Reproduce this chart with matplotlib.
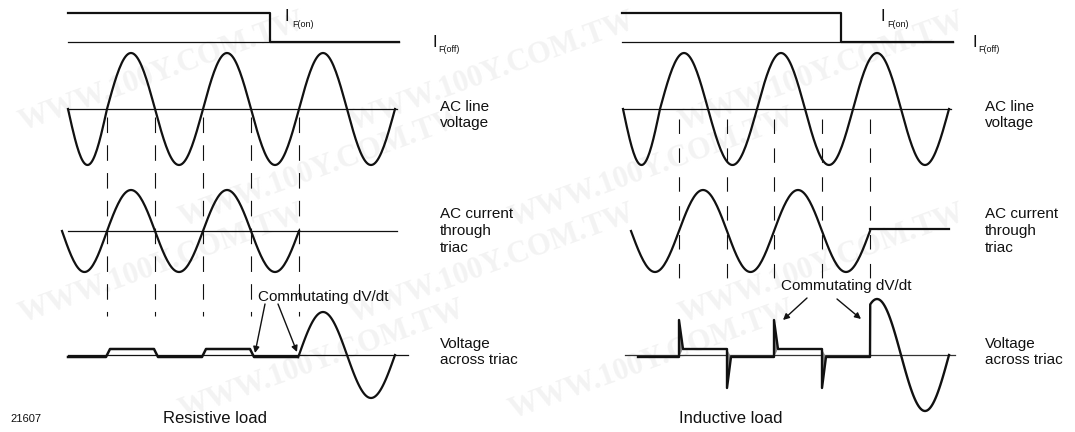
import numpy as np
import matplotlib.pyplot as plt

# Triac waveforms: resistive load (left) vs inductive load (right)
# everything is in picture pixels, y grows downward

# zero lines of the three waveform rows and the gate levels
gate_hi_y, gate_lo_y = 13, 42
line_y0, cur_y0, vt_y0 = 109, 231, 355

# half-cycle signs (+1 = above zero line)
line_signs = [-1, 1, -1, 1, -1, 1, -1]
cur_signs = [-1, 1, -1, 1, -1]

# resistive load
res_line_zeros = [68, 107, 155, 203, 251, 299, 347, 395]
res_cur_zeros = [62, 107, 155, 203, 251, 299]
res_gate = [68, 270, 399]          # start, switch-off, end
res_vt_start = 68

# inductive load
ind_line_zeros = [623, 660, 708, 757, 805, 853, 901, 949]
ind_cur_zeros = [631, 679, 727, 774, 822, 870]
ind_gate = [622, 841, 953]
ind_vt_start = 638
ind_cur_end = 949

# amplitudes (px)
line_amp = 56
cur_amp = 41
res_vt_amp = 43
ind_vt_amp = 56
on_hi, on_lo = 6, -2               # on-state voltage levels
spike_up, spike_dn = 35, -33       # commutation spikes

BLK = '#111111'
FONT = 'Liberation Sans'


def half_sines(zeros, signs, amp, y0, n=40):
    xs, ys = [], []
    for a, b, s in zip(zeros[:-1], zeros[1:], signs):
        t = np.linspace(0, 1, n)
        xs.append(a + (b - a) * t)
        ys.append(y0 - s * amp * np.sin(np.pi * t))
    return np.concatenate(xs), np.concatenate(ys)


fig = plt.figure(figsize=(10.75, 4.32), dpi=100)
ax = fig.add_axes([0, 0, 1, 1])
ax.set_xlim(0, 1075)
ax.set_ylim(432, 0)
ax.axis('off')

# faint watermark, kept inside the picture
for j, wy in enumerate([72, 168, 264, 360]):
    wx = 15 + (j % 2) * 160
    while wx + 260 < 1070:
        ax.text(wx, wy, 'WWW.100Y.COM.TW', fontsize=22, family='Liberation Serif',
                weight='bold', color='#f3f3f3', rotation=20, ha='left', va='center',
                zorder=0)
        wx += 330


def panel(line_zeros, cur_zeros, gate, inductive):
    x0 = line_zeros[0]
    # gate signal
    ax.plot([gate[0], gate[2]], [gate_lo_y, gate_lo_y], color=BLK, lw=0.9)
    ax.plot([gate[0], gate[1], gate[1], gate[2]],
            [gate_hi_y, gate_hi_y, gate_lo_y, gate_lo_y], color=BLK, lw=1.6)

    # AC line voltage
    ax.plot([x0, line_zeros[-1] + 2], [line_y0, line_y0], color=BLK, lw=0.9)
    lx, ly = half_sines(line_zeros, line_signs, line_amp, line_y0)
    ax.plot(lx, ly, color=BLK, lw=1.6)

    # current
    cx, cy = half_sines(cur_zeros, cur_signs, cur_amp, cur_y0)
    ax.plot(cx, cy, color=BLK, lw=1.6)
    if inductive:
        ax.plot([cur_zeros[-1], ind_cur_end], [cur_y0 - 2, cur_y0 - 2], color=BLK, lw=1.6)
    else:
        ax.plot([x0, line_zeros[-1] + 2], [cur_y0, cur_y0], color=BLK, lw=0.9)

    # dashed guides at current zeros
    y_end = 278 if inductive else 316
    y_start = 119 if inductive else 117
    dash = (13, 13) if inductive else (14, 11)
    for c in cur_zeros[1:]:
        ax.plot([c, c], [y_start, y_end], color=BLK, lw=0.8,
                dashes=dash, solid_capstyle='butt', dash_capstyle='butt')

    # voltage across triac
    vt_sw = cur_zeros[-1]
    if not inductive:
        ax.plot([x0, line_zeros[-1] + 13], [vt_y0, vt_y0], color=BLK, lw=0.9)
        px, py = [res_vt_start], [vt_y0 - on_lo]
        level = on_lo
        for c, s in zip(cur_zeros[1:-1], cur_signs[1:]):
            px += [c - 1]
            py += [vt_y0 - level]
            level = on_hi if s > 0 else on_lo
            px += [c + 3]
            py += [vt_y0 - level]
        px += [vt_sw - 1]
        py += [vt_y0 - level]
        sx, sy = half_sines(line_zeros, line_signs, res_vt_amp, vt_y0)
        keep = sx >= vt_sw
        ax.plot(px, py, color=BLK, lw=1.8)
        ax.plot(np.r_[vt_sw - 1, sx[keep]], np.r_[vt_y0 - level, sy[keep]],
                color=BLK, lw=1.6)
    else:
        ax.plot([line_zeros[0] + 2, line_zeros[-1] + 6], [vt_y0, vt_y0], color='#333333', lw=0.9)
        px, py = [ind_vt_start], [vt_y0 - on_lo]
        for c, s in zip(cur_zeros[1:-1], cur_signs[1:]):
            before = on_lo if s > 0 else on_hi
            after = on_hi if s > 0 else on_lo
            spike = spike_up if s > 0 else spike_dn
            ax.fill([c, c, c + 4], [vt_y0 - before, vt_y0 - spike, vt_y0 - after],
                    color='#8a8a8a', lw=0, zorder=2)
            px += [c, c, c + 4]
            py += [vt_y0 - before, vt_y0 - spike, vt_y0 - after]
        px += [vt_sw]
        py += [vt_y0 - on_lo]
        sx, sy = half_sines(line_zeros, line_signs, ind_vt_amp, vt_y0)
        keep = sx >= vt_sw
        px = np.r_[px, sx[keep]]
        py = np.r_[py, sy[keep]]
        ax.plot(px, py, color=BLK, lw=1.7, zorder=3)


panel(res_line_zeros, res_cur_zeros, res_gate, False)
panel(ind_line_zeros, ind_cur_zeros, ind_gate, True)

# "Commutating dV/dt" annotations
arrow = dict(arrowstyle='-|>', color=BLK, lw=1.0, mutation_scale=9, shrinkA=0, shrinkB=0)
ax.text(258, 301, 'Commutating dV/dt', fontsize=11, family=FONT, color=BLK)
ax.annotate('', xy=(255, 353), xytext=(265, 304), arrowprops=arrow)
ax.annotate('', xy=(297, 352), xytext=(278, 304), arrowprops=arrow)
ax.text(781, 290, 'Commutating dV/dt', fontsize=11, family=FONT, color=BLK)
ax.annotate('', xy=(783, 320), xytext=(807, 298), arrowprops=arrow)
ax.annotate('', xy=(861, 319), xytext=(837, 299), arrowprops=arrow)

# gate labels
for xi, xo in [(285, 433), (880, 973)]:
    ax.text(xi, 21, 'I', fontsize=12, family=FONT, color=BLK, va='baseline')
    ax.text(xi + 7, 27, 'F(on)', fontsize=6.5, family=FONT, color=BLK, va='baseline')
    ax.text(xo, 47, 'I', fontsize=12, family=FONT, color=BLK, va='baseline')
    ax.text(xo + 5, 52, 'F(off)', fontsize=6.5, family=FONT, color=BLK, va='baseline')

# row labels
for lx in [440, 985]:
    for s, by in [('AC line', 111), ('voltage', 127),
                  ('AC current', 218), ('through', 235), ('triac', 252),
                  ('Voltage', 348), ('across triac', 364)]:
        ax.text(lx, by, s, fontsize=11, family=FONT, color=BLK, va='baseline')

ax.text(215, 423, 'Resistive load', fontsize=12, family=FONT, color=BLK,
        ha='center', va='baseline')
ax.text(731, 423, 'Inductive load', fontsize=12, family=FONT, color=BLK,
        ha='center', va='baseline')
ax.text(10, 422, '21607', fontsize=8, family=FONT, color=BLK, va='baseline')

fig.savefig('out.png', dpi=100, facecolor='white')
